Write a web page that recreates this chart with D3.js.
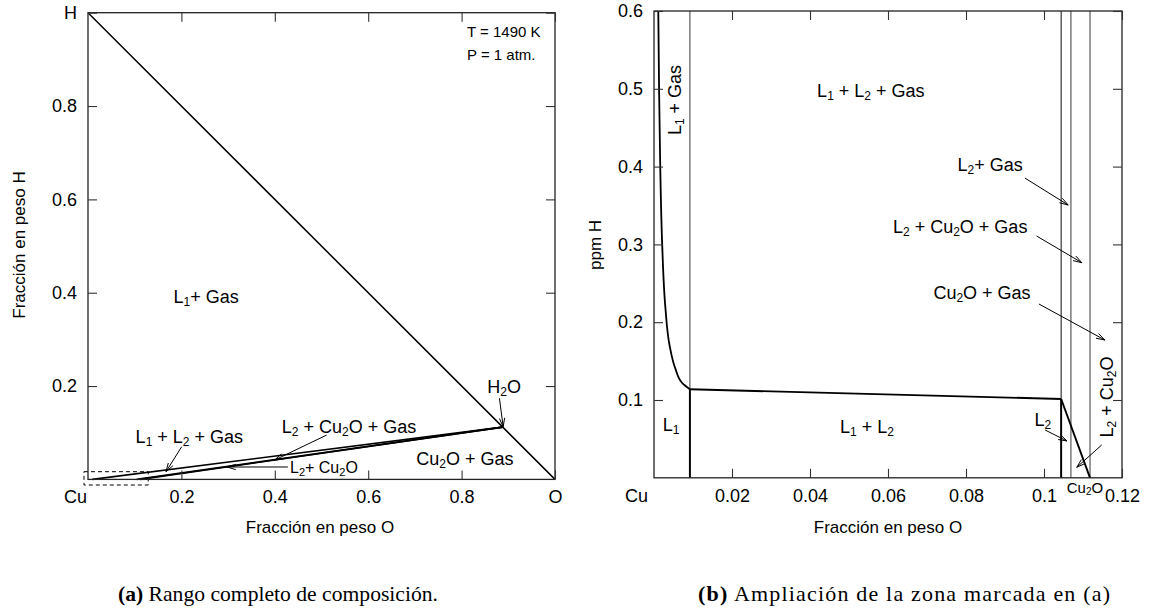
<!DOCTYPE html>
<html>
<head>
<meta charset="utf-8">
<script src="https://cdn.jsdelivr.net/npm/d3@7"></script>
<style>
  html, body { margin: 0; padding: 0; background: #fff; }
  svg text { font-family: "Liberation Sans", Arial, sans-serif; fill: #000; }
  svg text.caption { font-family: "Liberation Serif", "Times New Roman", serif; }
</style>
</head>
<body>
<svg id="chart" width="1152" height="616"></svg>
<script>
// ---- Panel (a): full Cu–O–H composition range (weight fractions) ----
const fullTicks = [0.2, 0.4, 0.6, 0.8];
const h2oPoint = [0.888, 0.112];                 // H2O composition (O, H)
const invariantO = [0.0092, 0.1044, 0.1118];     // L1, L2, Cu2O oxygen contents
const zoomRegionO = [-0.0086, 0.129];            // region enlarged in (b)
const zoomRegionH = [-0.012, 0.0165];

// ---- Panel (b): enlargement, H in ppm ----
const zoomXTicks = [0.02, 0.04, 0.06, 0.08, 0.1, 0.12];
const zoomYTicks = [0.1, 0.2, 0.3, 0.4, 0.5, 0.6];
const l1BoundaryO = [0.0011, 0.0013, 0.0016, 0.0021, 0.0029, 0.0040, 0.0055, 0.0072, 0.0092];
const l1BoundaryH = [0.6, 0.5, 0.4, 0.3, 0.22, 0.17, 0.14, 0.122, 0.1138];
const l1l2O = [0.0092, 0.1044];
const l1l2H = [0.1138, 0.1013];
const l2Cu2oO = [0.1044, 0.1118];
const l2Cu2oH = [0.1013, 0];
const gasTieO = [0.0092, 0.1044, 0.1069, 0.1118];   // vertical three-phase / gas boundaries

const svg = d3.select("#chart");

const xA = d3.scaleLinear([0, 1], [88, 555]);
const yA = d3.scaleLinear([0, 1], [479.4, 12.7]);
const xB = d3.scaleLinear([0, 0.12], [654, 1122]);
const yB = d3.scaleLinear([0, 0.6], [477.8, 11]);

const line = (xs, ys) => d3.line().x(d => xs(d[0])).y(d => ys(d[1]));

// label text with "_n" marking a subscript digit
function richText(g, str, size, subSize) {
  const parts = str.split(/(_\d)/).filter(s => s.length);
  let down = false;
  parts.forEach(p => {
    if (p.startsWith("_")) {
      g.append("tspan").attr("font-size", subSize).attr("dy", subSize * 0.42).text(p.slice(1));
      down = true;
    } else {
      const t = g.append("tspan").attr("font-size", size).text(p);
      if (down) { t.attr("dy", -subSize * 0.42); down = false; }
    }
  });
}

function label(xs, ys, d) {
  const size = d.size || 18;
  const t = svg.append("text")
    .attr("text-anchor", d.anchor || "middle")
    .attr("dominant-baseline", "central")
    .attr("transform", `translate(${xs(d.at[0])},${ys(d.at[1])})` + (d.rotate ? ` rotate(${d.rotate})` : ""));
  richText(t, d.text, size, Math.round(size * 0.68));
}

function arrow(xs, ys, from, to) {
  const x1 = xs(from[0]), y1 = ys(from[1]), x2 = xs(to[0]), y2 = ys(to[1]);
  const a = Math.atan2(y2 - y1, x2 - x1), L = 9, w = 0.3;
  const p = d3.path();
  p.moveTo(x1, y1); p.lineTo(x2, y2);
  p.moveTo(x2 - L * Math.cos(a - w), y2 - L * Math.sin(a - w));
  p.lineTo(x2, y2);
  p.lineTo(x2 - L * Math.cos(a + w), y2 - L * Math.sin(a + w));
  svg.append("path").attr("d", p.toString()).attr("fill", "none").attr("stroke", "#000").attr("stroke-width", 1);
}

function frame(xs, ys) {
  const [x0, x1] = xs.range(), [y0, y1] = ys.range();
  svg.append("rect").attr("x", x0).attr("y", y1).attr("width", x1 - x0).attr("height", y0 - y1)
    .attr("fill", "none").attr("stroke", "#222").attr("stroke-width", 1.3);
}

function axes(xs, ys, xt, yt, xfmt, yfmt) {
  const [x0, x1] = xs.range(), [y0, y1] = ys.range();
  const mk = (ax) => ax.tickSizeInner(-9).tickSizeOuter(0).tickPadding(11);
  const style = g => {
    g.select(".domain").remove();
    g.attr("color", "#333");
    g.selectAll("text").attr("font-size", 18).attr("fill", "#000");
    g.selectAll("line").attr("stroke-width", 1.1);
  };
  svg.append("g").attr("transform", `translate(0,${y0})`).call(mk(d3.axisBottom(xs)).tickValues(xt).tickFormat(xfmt)).call(style);
  svg.append("g").attr("transform", `translate(0,${y1})`).call(mk(d3.axisTop(xs)).tickValues(xt).tickFormat("")).call(style);
  svg.append("g").attr("transform", `translate(${x0},0)`).call(mk(d3.axisLeft(ys)).tickValues(yt).tickFormat(yfmt)).call(style);
  svg.append("g").attr("transform", `translate(${x1},0)`).call(mk(d3.axisRight(ys)).tickValues(yt).tickFormat("")).call(style);
}

// ================= Panel (a) =================
// H–O diagonal
svg.append("path").attr("d", line(xA, yA)([[0, 1], [1, 0]]))
  .attr("fill", "none").attr("stroke", "#000").attr("stroke-width", 1.5);
// tie lines from the condensed phases to H2O
invariantO.forEach(o => {
  svg.append("path").attr("d", line(xA, yA)([[o, 0], h2oPoint]))
    .attr("fill", "none").attr("stroke", "#000").attr("stroke-width", 1.6);
});
// marked region enlarged in (b)
svg.append("rect")
  .attr("x", xA(zoomRegionO[0])).attr("y", yA(zoomRegionH[1]))
  .attr("width", xA(zoomRegionO[1]) - xA(zoomRegionO[0]))
  .attr("height", yA(zoomRegionH[0]) - yA(zoomRegionH[1]))
  .attr("fill", "none").attr("stroke", "#000").attr("stroke-width", 1).attr("stroke-dasharray", "4,3");

frame(xA, yA);
axes(xA, yA, fullTicks.concat([1]), fullTicks.concat([1]),
  d => d === 1 ? "O" : d3.format("~g")(d),
  d => d === 1 ? "H" : d3.format("~g")(d));
svg.append("text").attr("x", xA(0) - 1).attr("y", yA(0) + 18).attr("text-anchor", "end")
  .attr("dominant-baseline", "central").attr("font-size", 18).text("Cu");

svg.append("text").attr("x", 320).attr("y", 527).attr("text-anchor", "middle")
  .attr("dominant-baseline", "central").attr("font-size", 17).text("Fracción en peso O");
svg.append("text").attr("transform", "translate(19,245) rotate(-90)").attr("text-anchor", "middle")
  .attr("dominant-baseline", "central").attr("font-size", 17).text("Fracción en peso H");

[
  { text: "T = 1490 K", at: [0.8116, 0.961], anchor: "start", size: 15 },
  { text: "P = 1 atm.", at: [0.8116, 0.911], anchor: "start", size: 15 },
  { text: "L_1+ Gas", at: [0.253, 0.391] },
  { text: "H_2O", at: [0.891, 0.198] },
  { text: "L_2 + Cu_2O + Gas", at: [0.559, 0.112] },
  { text: "L_1 + L_2 + Gas", at: [0.217, 0.091] },
  { text: "Cu_2O + Gas", at: [0.807, 0.044] },
  { text: "L_2+ Cu_2O", at: [0.4325, 0.0266], anchor: "start", size: 16 }
].forEach(d => label(xA, yA, d));

[
  [[0.881, 0.174], [0.889, 0.113]],
  [[0.511, 0.095], [0.400, 0.0416]],
  [[0.2006, 0.070], [0.167, 0.0165]],
  [[0.428, 0.0266], [0.298, 0.0266]]
].forEach(a => arrow(xA, yA, a[0], a[1]));

// ================= Panel (b) =================
// gas-side vertical boundaries (thin)
gasTieO.forEach((o, i) => {
  svg.append("path").attr("d", line(xB, yB)([[o, 0], [o, 0.6]]))
    .attr("fill", "none").attr("stroke", i === 1 ? "#222" : "#666").attr("stroke-width", i === 1 ? 1.1 : 1.3);
});
// L1 solubility curve
svg.append("path").attr("d", line(xB, yB).curve(d3.curveMonotoneY)(l1BoundaryO.map((o, i) => [o, l1BoundaryH[i]])))
  .attr("fill", "none").attr("stroke", "#000").attr("stroke-width", 1.8);
// liquid boundaries
const thick = (pts) => svg.append("path").attr("d", line(xB, yB)(pts))
  .attr("fill", "none").attr("stroke", "#000").attr("stroke-width", 1.9);
thick([[l1l2O[0], 0], [l1l2O[0], l1l2H[0]]]);
thick(l1l2O.map((o, i) => [o, l1l2H[i]]));
thick([[l1l2O[1], 0], [l1l2O[1], l1l2H[1]]]);
thick(l2Cu2oO.map((o, i) => [o, l2Cu2oH[i]]));

frame(xB, yB);
axes(xB, yB, zoomXTicks, zoomYTicks, d3.format("~g"), d3.format("~g"));
svg.append("text").attr("x", xB(0) - 6).attr("y", yB(0) + 18).attr("text-anchor", "end")
  .attr("dominant-baseline", "central").attr("font-size", 18).text("Cu");

svg.append("text").attr("x", 888).attr("y", 527).attr("text-anchor", "middle")
  .attr("dominant-baseline", "central").attr("font-size", 17).text("Fracción en peso O");
svg.append("text").attr("transform", "translate(595,245) rotate(-90)").attr("text-anchor", "middle")
  .attr("dominant-baseline", "central").attr("font-size", 17).text("ppm H");

[
  { text: "L_1 + Gas", at: [0.00538, 0.4856], rotate: -90 },
  { text: "L_1 + L_2 + Gas", at: [0.0556, 0.497] },
  { text: "L_2+ Gas", at: [0.0862, 0.402] },
  { text: "L_2 + Cu_2O + Gas", at: [0.0785, 0.3223] },
  { text: "Cu_2O + Gas", at: [0.0841, 0.2375] },
  { text: "L_2 + Cu_2O", at: [0.1162, 0.1039], rotate: -90 },
  { text: "L_2", at: [0.0997, 0.0743] },
  { text: "L_1", at: [0.00436, 0.0679] },
  { text: "L_1 + L_2", at: [0.0546, 0.0653] },
  { text: "Cu_2O", at: [0.1105, -0.0118], size: 15 }
].forEach(d => label(xB, yB, d));

[
  [[0.0951, 0.3853], [0.1062, 0.3506]],
  [[0.0981, 0.3108], [0.1097, 0.2765]],
  [[0.0987, 0.2234], [0.1156, 0.1771]],
  [[0.1148, 0.0422], [0.1084, 0.0135]],
  [[0.1003, 0.0614], [0.1059, 0.0473]]
].forEach(a => arrow(xB, yB, a[0], a[1]));

// ================= Captions =================
function caption(x, width, adjust, tag, rest) {
  const t = svg.append("text").attr("class", "caption").attr("x", x).attr("y", 601)
    .attr("font-size", 22)
    .attr("textLength", width).attr("lengthAdjust", adjust);
  t.append("tspan").attr("font-weight", "bold").text(tag);
  t.append("tspan").text(" " + rest);
}
caption(118, 320, "spacingAndGlyphs", "(a)", "Rango completo de composición.");
caption(698, 412, "spacing", "(b)", "Ampliación de la zona marcada en (a)");
</script>
</body>
</html>
